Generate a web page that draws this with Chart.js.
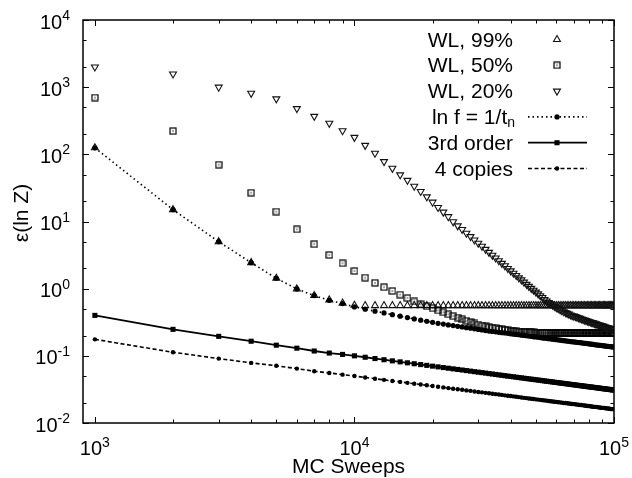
<!DOCTYPE html>
<html>
<head>
<meta charset="utf-8">
<script src="https://cdn.jsdelivr.net/npm/chart.js@4.4.1/dist/chart.umd.min.js"></script>
<style>
    html, body { margin: 0; padding: 0; background: #fff; }
    #wrap { width: 632px; height: 478px; }
</style>
</head>
<body>
<div id="wrap"><canvas id="chart" width="632" height="478"></canvas></div>
<script>
// MC sweeps, one point every 1000
const sweeps = [
    1000, 2000, 3000, 4000, 5000, 6000, 7000, 8000, 9000, 10000,
    11000, 12000, 13000, 14000, 15000, 16000, 17000, 18000, 19000, 20000,
    21000, 22000, 23000, 24000, 25000, 26000, 27000, 28000, 29000, 30000,
    31000, 32000, 33000, 34000, 35000, 36000, 37000, 38000, 39000, 40000,
    41000, 42000, 43000, 44000, 45000, 46000, 47000, 48000, 49000, 50000,
    51000, 52000, 53000, 54000, 55000, 56000, 57000, 58000, 59000, 60000,
    61000, 62000, 63000, 64000, 65000, 66000, 67000, 68000, 69000, 70000,
    71000, 72000, 73000, 74000, 75000, 76000, 77000, 78000, 79000, 80000,
    81000, 82000, 83000, 84000, 85000, 86000, 87000, 88000, 89000, 90000,
    91000, 92000, 93000, 94000, 95000, 96000, 97000, 98000, 99000, 100000,
];

const wl99 = [
    125, 15, 5.0, 2.44, 1.43, 0.99, 0.79, 0.68, 0.61, 0.565,
    0.56, 0.56, 0.56, 0.56, 0.56, 0.56, 0.56, 0.56, 0.56, 0.56,
    0.56, 0.56, 0.56, 0.56, 0.56, 0.56, 0.56, 0.56, 0.56, 0.56,
    0.56, 0.56, 0.56, 0.56, 0.56, 0.56, 0.56, 0.56, 0.56, 0.56,
    0.56, 0.56, 0.56, 0.56, 0.56, 0.56, 0.56, 0.56, 0.56, 0.56,
    0.56, 0.56, 0.56, 0.56, 0.56, 0.56, 0.56, 0.56, 0.56, 0.56,
    0.56, 0.56, 0.56, 0.56, 0.56, 0.56, 0.56, 0.56, 0.56, 0.56,
    0.56, 0.56, 0.56, 0.56, 0.56, 0.56, 0.56, 0.56, 0.56, 0.56,
    0.56, 0.56, 0.56, 0.56, 0.56, 0.56, 0.56, 0.56, 0.56, 0.56,
    0.56, 0.56, 0.56, 0.56, 0.56, 0.56, 0.56, 0.56, 0.56, 0.56,
];

const wl50 = [
    700, 222, 70, 26.8, 14, 7.65, 4.6, 3.17, 2.39, 1.83,
    1.46, 1.22, 1.05, 0.925, 0.815, 0.725, 0.645, 0.585, 0.545, 0.51,
    0.475, 0.445, 0.415, 0.39, 0.37, 0.35, 0.333, 0.318, 0.304, 0.292,
    0.282, 0.274, 0.267, 0.261, 0.256, 0.251, 0.247, 0.243, 0.240, 0.237,
    0.234, 0.232, 0.230, 0.228, 0.227, 0.226, 0.225, 0.224, 0.223, 0.222,
    0.221, 0.221, 0.220, 0.220, 0.220, 0.219, 0.219, 0.219, 0.219, 0.219,
    0.219, 0.219, 0.219, 0.219, 0.219, 0.219, 0.219, 0.219, 0.219, 0.219,
    0.219, 0.219, 0.219, 0.219, 0.219, 0.219, 0.219, 0.219, 0.219, 0.219,
    0.219, 0.219, 0.219, 0.219, 0.219, 0.219, 0.219, 0.219, 0.219, 0.219,
    0.219, 0.219, 0.219, 0.219, 0.219, 0.219, 0.219, 0.219, 0.219, 0.219,
];

const wl20 = [
    2000, 1570, 1000, 810, 670, 480, 368, 290, 225, 179,
    136, 104, 78, 62, 49.5, 41, 33.5, 28, 23.3, 19.4,
    16.2, 13.8, 11.8, 9.9, 8.6, 7.6, 6.7, 5.96, 5.31, 4.75,
    4.27, 3.85, 3.47, 3.14, 2.86, 2.61, 2.38, 2.19, 2.0, 1.84,
    1.70, 1.57, 1.45, 1.35, 1.25, 1.16, 1.08, 1.01, 0.948, 0.889,
    0.836, 0.785, 0.74, 0.69, 0.655, 0.622, 0.593, 0.567, 0.543, 0.521,
    0.502, 0.484, 0.469, 0.454, 0.441, 0.429, 0.418, 0.406, 0.396, 0.390,
    0.384, 0.376, 0.368, 0.361, 0.354, 0.347, 0.341, 0.335, 0.329, 0.324,
    0.319, 0.314, 0.309, 0.304, 0.299, 0.295, 0.291, 0.287, 0.283, 0.279,
    0.275, 0.271, 0.267, 0.264, 0.261, 0.257, 0.254, 0.251, 0.248, 0.245,
];

const lnF = [
    125, 15, 5.0, 2.44, 1.43, 0.99, 0.79, 0.67, 0.60, 0.535,
    0.495, 0.462, 0.435, 0.410, 0.389, 0.371, 0.354, 0.340, 0.327, 0.315,
    0.305, 0.297, 0.289, 0.282, 0.275, 0.269, 0.263, 0.258, 0.252, 0.247,
    0.243, 0.238, 0.234, 0.231, 0.228, 0.224, 0.221, 0.219, 0.216, 0.213,
    0.210, 0.208, 0.206, 0.203, 0.201, 0.199, 0.197, 0.195, 0.192, 0.191,
    0.189, 0.187, 0.185, 0.183, 0.182, 0.180, 0.179, 0.177, 0.175, 0.174,
    0.173, 0.171, 0.170, 0.168, 0.167, 0.166, 0.165, 0.163, 0.162, 0.161,
    0.160, 0.159, 0.158, 0.157, 0.156, 0.155, 0.154, 0.153, 0.152, 0.151,
    0.150, 0.149, 0.148, 0.147, 0.146, 0.145, 0.1445, 0.1436, 0.1428, 0.142,
    0.1412, 0.1405, 0.1397, 0.139, 0.1383, 0.1376, 0.1369, 0.1362, 0.1355, 0.1349,
];

const thirdOrder = [
    0.40, 0.248, 0.195, 0.165, 0.144, 0.130, 0.118, 0.110, 0.105, 0.100,
    0.0953, 0.0911, 0.0875, 0.0842, 0.0813, 0.0787, 0.0763, 0.0741, 0.0721, 0.0702,
    0.0685, 0.0669, 0.0654, 0.0640, 0.0627, 0.0615, 0.0603, 0.0592, 0.0581, 0.0571,
    0.0562, 0.0553, 0.0544, 0.0536, 0.0528, 0.0520, 0.0513, 0.0506, 0.0499, 0.0493,
    0.0487, 0.0481, 0.0475, 0.0470, 0.0464, 0.0459, 0.0454, 0.0449, 0.0445, 0.0440,
    0.0436, 0.0431, 0.0427, 0.0423, 0.0419, 0.0415, 0.0412, 0.0408, 0.0404, 0.0401,
    0.0398, 0.0394, 0.0391, 0.0388, 0.0385, 0.0382, 0.0379, 0.0376, 0.0373, 0.0371,
    0.0368, 0.0365, 0.0363, 0.0360, 0.0358, 0.0355, 0.0353, 0.0351, 0.0348, 0.0346,
    0.0344, 0.0342, 0.0340, 0.0338, 0.0336, 0.0334, 0.0332, 0.0330, 0.0328, 0.0326,
    0.0324, 0.0323, 0.0321, 0.0319, 0.0317, 0.0316, 0.0314, 0.0312, 0.0311, 0.0309,
];

const fourCopies = [
    0.176, 0.113, 0.091, 0.0785, 0.0712, 0.0645, 0.059, 0.0556, 0.0525, 0.0500,
    0.0477, 0.0456, 0.0439, 0.0423, 0.0409, 0.0396, 0.0385, 0.0374, 0.0364, 0.0355,
    0.0346, 0.0339, 0.0331, 0.0324, 0.0318, 0.0312, 0.0306, 0.0301, 0.0295, 0.0290,
    0.0286, 0.0281, 0.0277, 0.0273, 0.0269, 0.0265, 0.0262, 0.0258, 0.0255, 0.0252,
    0.0249, 0.0246, 0.0243, 0.0240, 0.0237, 0.0235, 0.0232, 0.0230, 0.0228, 0.0225,
    0.0223, 0.0221, 0.0219, 0.0217, 0.0215, 0.0213, 0.0211, 0.0209, 0.0207, 0.0206,
    0.0204, 0.0203, 0.0201, 0.0199, 0.0198, 0.0197, 0.0195, 0.0193, 0.0192, 0.0191,
    0.0190, 0.0188, 0.0187, 0.0185, 0.0185, 0.0183, 0.0182, 0.0181, 0.0179, 0.0179,
    0.0178, 0.0176, 0.0175, 0.0174, 0.0174, 0.0173, 0.0171, 0.0170, 0.0169, 0.0168,
    0.0168, 0.0167, 0.0166, 0.0165, 0.0164, 0.0163, 0.0162, 0.0161, 0.0161, 0.0160,
];

const seriesLabels = ["WL, 99%", "WL, 50%", "WL, 20%", "ln f = 1/t_n", "3rd order", "4 copies"];
const xDecades = [3, 4, 5];
const yDecades = [-2, -1, 0, 1, 2, 3, 4];

const X_TITLE = "MC Sweeps";
const Y_TITLE = "\u03b5(ln Z)";
const FONT = '"Liberation Sans", Arial, Helvetica, sans-serif';

function toPoints(values) {
    return sweeps.map((s, i) => ({ x: s, y: values[i] }));
}

// open square with a dot in the middle (gnuplot "boxed dot")
function boxDotSprite() {
    const c = document.createElement("canvas");
    c.width = 8;
    c.height = 8;
    const g = c.getContext("2d");
    g.strokeStyle = "#000";
    g.lineWidth = 1.2;
    g.strokeRect(1, 1, 6, 6);
    g.fillStyle = "#000";
    g.fillRect(3.4, 3.4, 1.2, 1.2);
    return c;
}

function drawPow(ctx, exp, x, baseY, align) {
    const base = "10";
    const sup = String(exp);
    ctx.font = `20px ${FONT}`;
    const bw = ctx.measureText(base).width;
    ctx.font = `14px ${FONT}`;
    const sw = ctx.measureText(sup).width;
    const left = align === "right" ? x - bw - sw : x - (bw + sw) / 2;
    ctx.textAlign = "left";
    ctx.textBaseline = "alphabetic";
    ctx.font = `20px ${FONT}`;
    ctx.fillText(base, left, baseY);
    ctx.font = `14px ${FONT}`;
    ctx.fillText(sup, left + bw, baseY - 8.5);
}

// frame, inward ticks on all four sides, tick labels and axis titles
const frameAndTicks = {
    id: "frameAndTicks",
    afterDraw(chart) {
        const { ctx, chartArea: area, scales } = chart;
        const xs = scales.x;
        const ys = scales.y;
        ctx.save();
        ctx.strokeStyle = "#000";
        ctx.fillStyle = "#000";
        ctx.lineWidth = 1;
        ctx.beginPath();
        xDecades.forEach((d) => {
            for (let m = 1; m <= 9; m++) {
                const v = m * Math.pow(10, d);
                if (v < xs.min || v > xs.max) continue;
                const px = Math.round(xs.getPixelForValue(v)) + 0.5;
                const len = m === 1 ? 6 : 3.5;
                ctx.moveTo(px, area.bottom);
                ctx.lineTo(px, area.bottom - len);
                ctx.moveTo(px, area.top);
                ctx.lineTo(px, area.top + len);
            }
        });
        yDecades.forEach((d) => {
            [1, 2, 5].forEach((m) => {
                const v = m * Math.pow(10, d);
                if (v < ys.min || v > ys.max) return;
                const py = Math.round(ys.getPixelForValue(v)) + 0.5;
                const len = m === 1 ? 6 : 3.5;
                ctx.moveTo(area.left, py);
                ctx.lineTo(area.left + len, py);
                ctx.moveTo(area.right, py);
                ctx.lineTo(area.right - len, py);
            });
        });
        ctx.stroke();

        ctx.lineWidth = 1.5;
        ctx.strokeRect(area.left, area.top, area.right - area.left, area.bottom - area.top);

        xDecades.forEach((d) => {
            drawPow(ctx, d, xs.getPixelForValue(Math.pow(10, d)), area.bottom + 32, "center");
        });
        yDecades.forEach((d) => {
            drawPow(ctx, d, 70, ys.getPixelForValue(Math.pow(10, d)) + 8.5, "right");
        });

        ctx.font = `21px ${FONT}`;
        ctx.textAlign = "center";
        ctx.textBaseline = "alphabetic";
        ctx.fillText(X_TITLE, (area.left + area.right) / 2, 473);

        ctx.translate(28, 213);
        ctx.rotate(-Math.PI / 2);
        ctx.fillText(Y_TITLE, 0, 0);
        ctx.restore();
    },
};

// gnuplot style key: right aligned text, sample on the right
const keyBox = {
    id: "keyBox",
    afterDraw(chart) {
        const ctx = chart.ctx;
        ctx.save();
        chart.data.datasets.forEach((ds, i) => {
            const rowY = 39.5 + i * 25.8;
            const parts = ds.label.split("_");
            ctx.fillStyle = "#000";
            ctx.textAlign = "right";
            ctx.textBaseline = "alphabetic";
            let right = 513;
            if (parts.length > 1) {
                ctx.font = `14px ${FONT}`;
                ctx.fillText(parts[1], right + 2, rowY + 10);
                right = right + 2 - ctx.measureText(parts[1]).width;
            }
            ctx.font = `21px ${FONT}`;
            ctx.fillText(parts[0], right, rowY + 7);

            if (ds.showLine) {
                ctx.strokeStyle = "#000";
                ctx.lineWidth = ds.borderWidth;
                ctx.setLineDash(ds.borderDash || []);
                ctx.beginPath();
                ctx.moveTo(528, rowY);
                ctx.lineTo(587, rowY);
                ctx.stroke();
                ctx.setLineDash([]);
            }
            ctx.fillStyle = ds.pointBackgroundColor;
            ctx.strokeStyle = ds.pointBorderColor;
            ctx.lineWidth = ds.pointBorderWidth;
            Chart.helpers.drawPoint(ctx, {
                pointStyle: ds.pointStyle,
                rotation: ds.pointRotation || 0,
                radius: ds.pointRadius,
                borderWidth: ds.pointBorderWidth,
            }, 557, rowY);
        });
        ctx.restore();
    },
};

function makeChart() {
    const ctx = document.getElementById("chart");
    const boxDot = boxDotSprite();
    const datasets = [
        {
            label: seriesLabels[0],
            data: toPoints(wl99),
            showLine: false,
            pointStyle: "triangle",
            pointRadius: 4,
            pointBorderWidth: 1.1,
            pointBorderColor: "#111",
            pointBackgroundColor: "rgba(0,0,0,0)",
            order: 6,
        },
        {
            label: seriesLabels[1],
            data: toPoints(wl50),
            showLine: false,
            pointStyle: boxDot,
            pointRadius: 4,
            pointBorderWidth: 1,
            pointBorderColor: "#000",
            pointBackgroundColor: "rgba(0,0,0,0)",
            order: 5,
        },
        {
            label: seriesLabels[2],
            data: toPoints(wl20),
            showLine: false,
            pointStyle: "triangle",
            pointRotation: 180,
            pointRadius: 4,
            pointBorderWidth: 1.1,
            pointBorderColor: "#111",
            pointBackgroundColor: "rgba(0,0,0,0)",
            order: 4,
        },
        {
            label: seriesLabels[3],
            data: toPoints(lnF),
            showLine: true,
            borderColor: "#000",
            borderWidth: 1.6,
            borderDash: [1.5, 3],
            pointStyle: "circle",
            pointRadius: 2.6,
            pointBorderWidth: 0,
            pointBorderColor: "#000",
            pointBackgroundColor: "#000",
            order: 3,
        },
        {
            label: seriesLabels[4],
            data: toPoints(thirdOrder),
            showLine: true,
            borderColor: "#000",
            borderWidth: 1.8,
            pointStyle: "rect",
            pointRadius: 3.6,
            pointBorderWidth: 0,
            pointBorderColor: "#000",
            pointBackgroundColor: "#000",
            order: 2,
        },
        {
            label: seriesLabels[5],
            data: toPoints(fourCopies),
            showLine: true,
            borderColor: "#000",
            borderWidth: 1.6,
            borderDash: [4, 2.5],
            pointStyle: "circle",
            pointRadius: 2.2,
            pointBorderWidth: 0,
            pointBorderColor: "#000",
            pointBackgroundColor: "#000",
            order: 1,
        },
    ];

    return new Chart(ctx, {
        type: "line",
        data: { datasets: datasets },
        options: {
            responsive: false,
            animation: false,
            devicePixelRatio: 1,
            events: [],
            layout: { padding: { top: 20, right: 18, left: 0, bottom: 0 } },
            elements: { line: { tension: 0 } },
            plugins: {
                legend: { display: false },
                tooltip: { enabled: false },
            },
            scales: {
                x: {
                    type: "logarithmic",
                    min: 900,
                    max: 100000,
                    grid: { display: false },
                    border: { display: false },
                    ticks: { display: false },
                    afterFit(scale) {
                        scale.height = 55;
                    },
                },
                y: {
                    type: "logarithmic",
                    min: 0.01,
                    max: 10000,
                    grid: { display: false },
                    border: { display: false },
                    ticks: { display: false },
                    afterFit(scale) {
                        scale.width = 83;
                    },
                },
            },
        },
        plugins: [frameAndTicks, keyBox],
    });
}

makeChart();
</script>
</body>
</html>
